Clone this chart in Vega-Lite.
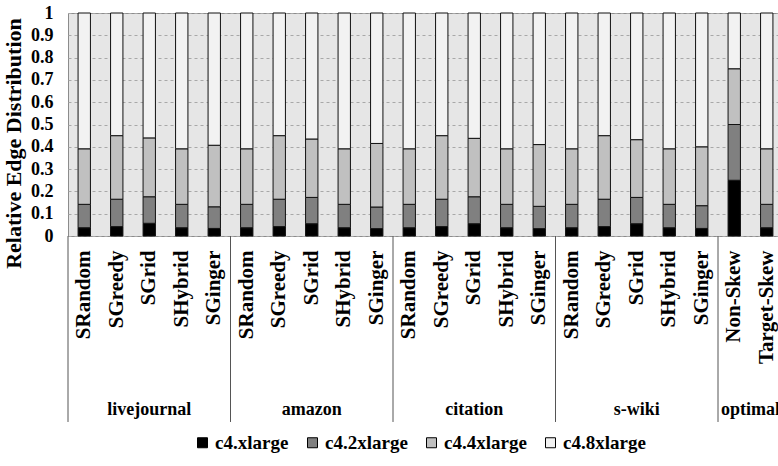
{
  "$schema": "https://vega.github.io/schema/vega-lite/v6.json",
  "width": 715,
  "height": 223,
  "padding": {"left": 2, "top": 4, "right": 0, "bottom": 0},
  "background": "white",
  "config": {
    "view": {"fill": "#e6e6e6", "stroke": "#8c8c8c"},
    "font": "Liberation Serif",
    "axis": {"labelFont": "Liberation Serif", "titleFont": "Liberation Serif"},
    "legend": {"labelFont": "Liberation Serif"},
    "text": {"font": "Liberation Serif"}
  },
  "datasets": {
    "bars": [
      {"bar": "livejournal/SRandom", "type": "c4.xlarge", "v": 0.037},
      {"bar": "livejournal/SRandom", "type": "c4.2xlarge", "v": 0.105},
      {"bar": "livejournal/SRandom", "type": "c4.4xlarge", "v": 0.249},
      {"bar": "livejournal/SRandom", "type": "c4.8xlarge", "v": 0.609},
      {"bar": "livejournal/SGreedy", "type": "c4.xlarge", "v": 0.042},
      {"bar": "livejournal/SGreedy", "type": "c4.2xlarge", "v": 0.123},
      {"bar": "livejournal/SGreedy", "type": "c4.4xlarge", "v": 0.285},
      {"bar": "livejournal/SGreedy", "type": "c4.8xlarge", "v": 0.55},
      {"bar": "livejournal/SGrid", "type": "c4.xlarge", "v": 0.057},
      {"bar": "livejournal/SGrid", "type": "c4.2xlarge", "v": 0.119},
      {"bar": "livejournal/SGrid", "type": "c4.4xlarge", "v": 0.264},
      {"bar": "livejournal/SGrid", "type": "c4.8xlarge", "v": 0.56},
      {"bar": "livejournal/SHybrid", "type": "c4.xlarge", "v": 0.037},
      {"bar": "livejournal/SHybrid", "type": "c4.2xlarge", "v": 0.105},
      {"bar": "livejournal/SHybrid", "type": "c4.4xlarge", "v": 0.249},
      {"bar": "livejournal/SHybrid", "type": "c4.8xlarge", "v": 0.609},
      {"bar": "livejournal/SGinger", "type": "c4.xlarge", "v": 0.034},
      {"bar": "livejournal/SGinger", "type": "c4.2xlarge", "v": 0.097},
      {"bar": "livejournal/SGinger", "type": "c4.4xlarge", "v": 0.276},
      {"bar": "livejournal/SGinger", "type": "c4.8xlarge", "v": 0.593},
      {"bar": "amazon/SRandom", "type": "c4.xlarge", "v": 0.037},
      {"bar": "amazon/SRandom", "type": "c4.2xlarge", "v": 0.105},
      {"bar": "amazon/SRandom", "type": "c4.4xlarge", "v": 0.249},
      {"bar": "amazon/SRandom", "type": "c4.8xlarge", "v": 0.609},
      {"bar": "amazon/SGreedy", "type": "c4.xlarge", "v": 0.042},
      {"bar": "amazon/SGreedy", "type": "c4.2xlarge", "v": 0.123},
      {"bar": "amazon/SGreedy", "type": "c4.4xlarge", "v": 0.285},
      {"bar": "amazon/SGreedy", "type": "c4.8xlarge", "v": 0.55},
      {"bar": "amazon/SGrid", "type": "c4.xlarge", "v": 0.055},
      {"bar": "amazon/SGrid", "type": "c4.2xlarge", "v": 0.118},
      {"bar": "amazon/SGrid", "type": "c4.4xlarge", "v": 0.262},
      {"bar": "amazon/SGrid", "type": "c4.8xlarge", "v": 0.565},
      {"bar": "amazon/SHybrid", "type": "c4.xlarge", "v": 0.037},
      {"bar": "amazon/SHybrid", "type": "c4.2xlarge", "v": 0.105},
      {"bar": "amazon/SHybrid", "type": "c4.4xlarge", "v": 0.249},
      {"bar": "amazon/SHybrid", "type": "c4.8xlarge", "v": 0.609},
      {"bar": "amazon/SGinger", "type": "c4.xlarge", "v": 0.033},
      {"bar": "amazon/SGinger", "type": "c4.2xlarge", "v": 0.097},
      {"bar": "amazon/SGinger", "type": "c4.4xlarge", "v": 0.285},
      {"bar": "amazon/SGinger", "type": "c4.8xlarge", "v": 0.585},
      {"bar": "citation/SRandom", "type": "c4.xlarge", "v": 0.037},
      {"bar": "citation/SRandom", "type": "c4.2xlarge", "v": 0.105},
      {"bar": "citation/SRandom", "type": "c4.4xlarge", "v": 0.249},
      {"bar": "citation/SRandom", "type": "c4.8xlarge", "v": 0.609},
      {"bar": "citation/SGreedy", "type": "c4.xlarge", "v": 0.042},
      {"bar": "citation/SGreedy", "type": "c4.2xlarge", "v": 0.123},
      {"bar": "citation/SGreedy", "type": "c4.4xlarge", "v": 0.285},
      {"bar": "citation/SGreedy", "type": "c4.8xlarge", "v": 0.55},
      {"bar": "citation/SGrid", "type": "c4.xlarge", "v": 0.055},
      {"bar": "citation/SGrid", "type": "c4.2xlarge", "v": 0.121},
      {"bar": "citation/SGrid", "type": "c4.4xlarge", "v": 0.262},
      {"bar": "citation/SGrid", "type": "c4.8xlarge", "v": 0.562},
      {"bar": "citation/SHybrid", "type": "c4.xlarge", "v": 0.037},
      {"bar": "citation/SHybrid", "type": "c4.2xlarge", "v": 0.105},
      {"bar": "citation/SHybrid", "type": "c4.4xlarge", "v": 0.249},
      {"bar": "citation/SHybrid", "type": "c4.8xlarge", "v": 0.609},
      {"bar": "citation/SGinger", "type": "c4.xlarge", "v": 0.033},
      {"bar": "citation/SGinger", "type": "c4.2xlarge", "v": 0.1},
      {"bar": "citation/SGinger", "type": "c4.4xlarge", "v": 0.277},
      {"bar": "citation/SGinger", "type": "c4.8xlarge", "v": 0.59},
      {"bar": "s-wiki/SRandom", "type": "c4.xlarge", "v": 0.037},
      {"bar": "s-wiki/SRandom", "type": "c4.2xlarge", "v": 0.105},
      {"bar": "s-wiki/SRandom", "type": "c4.4xlarge", "v": 0.249},
      {"bar": "s-wiki/SRandom", "type": "c4.8xlarge", "v": 0.609},
      {"bar": "s-wiki/SGreedy", "type": "c4.xlarge", "v": 0.042},
      {"bar": "s-wiki/SGreedy", "type": "c4.2xlarge", "v": 0.123},
      {"bar": "s-wiki/SGreedy", "type": "c4.4xlarge", "v": 0.285},
      {"bar": "s-wiki/SGreedy", "type": "c4.8xlarge", "v": 0.55},
      {"bar": "s-wiki/SGrid", "type": "c4.xlarge", "v": 0.055},
      {"bar": "s-wiki/SGrid", "type": "c4.2xlarge", "v": 0.118},
      {"bar": "s-wiki/SGrid", "type": "c4.4xlarge", "v": 0.259},
      {"bar": "s-wiki/SGrid", "type": "c4.8xlarge", "v": 0.568},
      {"bar": "s-wiki/SHybrid", "type": "c4.xlarge", "v": 0.037},
      {"bar": "s-wiki/SHybrid", "type": "c4.2xlarge", "v": 0.105},
      {"bar": "s-wiki/SHybrid", "type": "c4.4xlarge", "v": 0.249},
      {"bar": "s-wiki/SHybrid", "type": "c4.8xlarge", "v": 0.609},
      {"bar": "s-wiki/SGinger", "type": "c4.xlarge", "v": 0.034},
      {"bar": "s-wiki/SGinger", "type": "c4.2xlarge", "v": 0.102},
      {"bar": "s-wiki/SGinger", "type": "c4.4xlarge", "v": 0.264},
      {"bar": "s-wiki/SGinger", "type": "c4.8xlarge", "v": 0.6},
      {"bar": "optimal/Non-Skew", "type": "c4.xlarge", "v": 0.25},
      {"bar": "optimal/Non-Skew", "type": "c4.2xlarge", "v": 0.25},
      {"bar": "optimal/Non-Skew", "type": "c4.4xlarge", "v": 0.25},
      {"bar": "optimal/Non-Skew", "type": "c4.8xlarge", "v": 0.25},
      {"bar": "optimal/Target-Skew", "type": "c4.xlarge", "v": 0.037},
      {"bar": "optimal/Target-Skew", "type": "c4.2xlarge", "v": 0.105},
      {"bar": "optimal/Target-Skew", "type": "c4.4xlarge", "v": 0.249},
      {"bar": "optimal/Target-Skew", "type": "c4.8xlarge", "v": 0.609}
    ],
    "groups": [
      {"group": "livejournal", "first": "livejournal/SRandom", "mid": "livejournal/SGrid"},
      {"group": "amazon", "first": "amazon/SRandom", "mid": "amazon/SGrid"},
      {"group": "citation", "first": "citation/SRandom", "mid": "citation/SGrid"},
      {"group": "s-wiki", "first": "s-wiki/SRandom", "mid": "s-wiki/SGrid"},
      {"group": "optimal", "first": "optimal/Non-Skew", "mid": "optimal/Non-Skew"}
    ]
  },
  "resolve": {"scale": {"x": "independent"}, "axis": {"x": "independent"}},
  "layer": [
    {
      "data": {"name": "bars"},
      "transform": [
        {"calculate": "indexof(['c4.xlarge', 'c4.2xlarge', 'c4.4xlarge', 'c4.8xlarge'], datum.type)", "as": "stackOrder"}
      ],
      "mark": {"type": "bar", "stroke": "#111111", "strokeWidth": 1},
      "encoding": {
        "x": {
          "field": "bar",
          "type": "nominal",
          "sort": null,
          "scale": {
            "domain": ["livejournal/SRandom", "livejournal/SGreedy", "livejournal/SGrid", "livejournal/SHybrid", "livejournal/SGinger",
                       "amazon/SRandom", "amazon/SGreedy", "amazon/SGrid", "amazon/SHybrid", "amazon/SGinger",
                       "citation/SRandom", "citation/SGreedy", "citation/SGrid", "citation/SHybrid", "citation/SGinger",
                       "s-wiki/SRandom", "s-wiki/SGreedy", "s-wiki/SGrid", "s-wiki/SHybrid", "s-wiki/SGinger",
                       "optimal/Non-Skew", "optimal/Target-Skew"],
            "paddingInner": 0.62,
            "paddingOuter": 0.31
          },
          "axis": {
            "title": null,
            "labelExpr": "split(datum.label, '/')[1]",
            "labelAngle": -90,
            "labelFont": "Liberation Serif",
            "labelFontSize": 21,
            "labelFontWeight": "bold",
            "labelColor": "black",
            "labelPadding": 14,
            "labelLimit": 200,
            "labelOverlap": false,
            "ticks": false,
            "domain": false,
            "grid": false
          }
        },
        "y": {
          "field": "v",
          "type": "quantitative",
          "stack": "zero",
          "scale": {"domain": [0, 1], "nice": false},
          "axis": {
            "title": "Relative Edge Distribution",
            "titleFont": "Liberation Serif",
            "titleFontSize": 22,
            "titleFontWeight": "bold",
            "titleColor": "black",
            "titlePadding": 5,
            "titleY": 130,
            "tickCount": 10,
            "labelExpr": "format(datum.value, '~g')",
            "labelFont": "Liberation Serif",
            "labelFontSize": 18,
            "labelFontWeight": "bold",
            "labelColor": "black",
            "labelPadding": 15,
            "labelOverlap": false,
            "ticks": false,
            "domain": false,
            "grid": true,
            "gridColor": "#a8a8a8",
            "gridDash": [3, 3]
          }
        },
        "order": {"field": "stackOrder", "type": "quantitative", "sort": "ascending"},
        "color": {
          "field": "type",
          "type": "nominal",
          "sort": ["c4.xlarge", "c4.2xlarge", "c4.4xlarge", "c4.8xlarge"],
          "scale": {
            "domain": ["c4.xlarge", "c4.2xlarge", "c4.4xlarge", "c4.8xlarge"],
            "range": ["#000000", "#808080", "#c0c0c0", "#f2f2f2"]
          },
          "legend": {
            "title": null,
            "orient": "none",
            "direction": "horizontal",
            "legendX": 125,
            "legendY": 420,
            "symbolType": "square",
            "symbolSize": 100,
            "symbolStrokeColor": "black",
            "symbolStrokeWidth": 1,
            "labelFont": "Liberation Serif",
            "labelFontSize": 19,
            "labelFontWeight": "bold",
            "labelColor": "black",
            "labelOffset": 3,
            "columnPadding": 14,
            "labelLimit": 200
          }
        }
      }
    },
    {
      "data": {"name": "groups"},
      "mark": {"type": "rule", "color": "#555555", "strokeWidth": 1},
      "encoding": {
        "x": {"field": "first", "type": "nominal", "sort": null, "bandPosition": 0,
              "scale": {"domain": ["livejournal/SRandom", "livejournal/SGreedy", "livejournal/SGrid", "livejournal/SHybrid", "livejournal/SGinger",
                       "amazon/SRandom", "amazon/SGreedy", "amazon/SGrid", "amazon/SHybrid", "amazon/SGinger",
                       "citation/SRandom", "citation/SGreedy", "citation/SGrid", "citation/SHybrid", "citation/SGinger",
                       "s-wiki/SRandom", "s-wiki/SGreedy", "s-wiki/SGrid", "s-wiki/SHybrid", "s-wiki/SGinger",
                       "optimal/Non-Skew", "optimal/Target-Skew"], "type": "band", "paddingInner": 0, "paddingOuter": 0},
              "axis": null},
        "y": {"datum": 0},
        "y2": {"datum": -0.834}
      }
    },
    {
      "data": {"name": "groups"},
      "transform": [{"filter": "datum.group !== 'optimal'"}],
      "mark": {"type": "text", "font": "Liberation Serif", "fontSize": 18, "fontWeight": "bold", "color": "black", "baseline": "middle", "align": "center"},
      "encoding": {
        "x": {"field": "mid", "type": "nominal", "sort": null, "bandPosition": 0.5,
              "scale": {"domain": ["livejournal/SRandom", "livejournal/SGreedy", "livejournal/SGrid", "livejournal/SHybrid", "livejournal/SGinger",
                       "amazon/SRandom", "amazon/SGreedy", "amazon/SGrid", "amazon/SHybrid", "amazon/SGinger",
                       "citation/SRandom", "citation/SGreedy", "citation/SGrid", "citation/SHybrid", "citation/SGinger",
                       "s-wiki/SRandom", "s-wiki/SGreedy", "s-wiki/SGrid", "s-wiki/SHybrid", "s-wiki/SGinger",
                       "optimal/Non-Skew", "optimal/Target-Skew"], "type": "band", "paddingInner": 0, "paddingOuter": 0},
              "axis": null},
        "y": {"datum": -0.78},
        "text": {"field": "group"}
      }
    },
    {
      "data": {"name": "groups"},
      "transform": [{"filter": "datum.group === 'optimal'"}],
      "mark": {"type": "text", "font": "Liberation Serif", "fontSize": 18, "fontWeight": "bold", "color": "black", "baseline": "middle", "align": "center"},
      "encoding": {
        "x": {"field": "mid", "type": "nominal", "sort": null, "bandPosition": 1,
              "scale": {"domain": ["livejournal/SRandom", "livejournal/SGreedy", "livejournal/SGrid", "livejournal/SHybrid", "livejournal/SGinger",
                       "amazon/SRandom", "amazon/SGreedy", "amazon/SGrid", "amazon/SHybrid", "amazon/SGinger",
                       "citation/SRandom", "citation/SGreedy", "citation/SGrid", "citation/SHybrid", "citation/SGinger",
                       "s-wiki/SRandom", "s-wiki/SGreedy", "s-wiki/SGrid", "s-wiki/SHybrid", "s-wiki/SGinger",
                       "optimal/Non-Skew", "optimal/Target-Skew"], "type": "band", "paddingInner": 0, "paddingOuter": 0},
              "axis": null},
        "y": {"datum": -0.78},
        "text": {"field": "group"}
      }
    }
  ]
}
